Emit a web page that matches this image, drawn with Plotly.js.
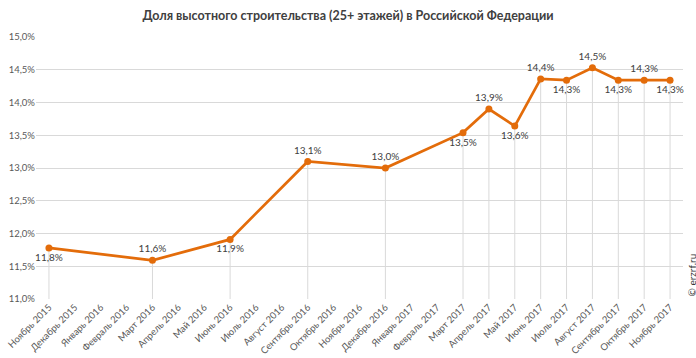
<!DOCTYPE html>
<html>
<head>
<meta charset="utf-8">
<script src="https://cdn.plot.ly/plotly-3.0.1.min.js"></script>
<style>html,body{margin:0;padding:0;background:#fff;}#chart{width:696px;height:358px;}</style>
</head>
<body>
<div id="chart"></div>
<script>
const months = ["Ноябрь 2015","Декабрь 2015","Январь 2016","Февраль 2016","Март 2016","Апрель 2016","Май 2016","Июнь 2016","Июль 2016","Август 2016","Сентябрь 2016","Октябрь 2016","Ноябрь 2016","Декабрь 2016","Январь 2017","Февраль 2017","Март 2017","Апрель 2017","Май 2017","Июнь 2017","Июль 2017","Август 2017","Сентябрь 2017","Октябрь 2017","Ноябрь 2017"];
const share = [11.78,null,null,null,11.59,null,null,11.91,null,null,13.10,null,null,13.00,null,null,13.54,13.90,13.64,14.36,14.34,14.53,14.34,14.34,14.34];
const labelPos = ["bottom center",null,null,null,"top center",null,null,"bottom center",null,null,"top center",null,null,"top center",null,null,"bottom center","top center","bottom center","top center","bottom center","top center","bottom center","top center","bottom center"];
const yTicks = [11,11.5,12,12.5,13,13.5,14,14.5,15];
const title = "Доля высотного строительства (25+ этажей) в Российской Федерации";
const yMin = 11, yMax = 15;

const drops = share.map(v => v == null ? null : v - yMin);
const yTickText = yTicks.map(v => v.toFixed(1).replace(".", ",") + "%");

const traces = [
  {
    x: months, y: share, type: "scatter", mode: "markers",
    marker: {size: 1, opacity: 0},
    error_y: {type: "data", symmetric: false, array: share.map(v => 0), arrayminus: drops, width: 0, thickness: 1, color: "#d9d9d9"},
    hoverinfo: "skip", showlegend: false
  },
  {
    x: months, y: share, type: "scatter", mode: "lines+markers+text",
    connectgaps: true,
    line: {color: "#E36C0A", width: 2.75},
    marker: {color: "#E36C0A", size: 7},
    texttemplate: "%{y:.1f}%",
    textposition: labelPos,
    textfont: {family: "Lato, 'Open Sans', sans-serif", size: 10, color: "#404040"},
    cliponaxis: false,
    showlegend: false
  }
];

const layout = {
  width: 696, height: 358,
  margin: {l: 36, r: 13, t: 37, b: 59},
  paper_bgcolor: "#ffffff", plot_bgcolor: "#ffffff",
  separators: ", ",
  title: {text: "<b>" + title + "</b>", x: 0.5, xanchor: "center", y: 0.955, yanchor: "middle",
          font: {family: "Lato, 'Open Sans', sans-serif", size: 12.5, color: "#404040"}},
  xaxis: {
    type: "category", range: [-0.5, months.length - 0.5],
    tickangle: -45, showgrid: false, zeroline: false, showline: false,
    ticks: "", tickfont: {family: "Lato, 'Open Sans', sans-serif", size: 9.5, color: "#595959"},
    fixedrange: true
  },
  yaxis: {
    range: [yMin, yMax], tickmode: "array", tickvals: yTicks, ticktext: yTickText,
    showgrid: true, gridcolor: "#d9d9d9", gridwidth: 1, zeroline: false, showline: false,
    ticks: "", tickfont: {family: "Lato, 'Open Sans', sans-serif", size: 9.5, color: "#595959"},
    fixedrange: true
  },
  annotations: [{
    text: "© erzrf.ru", xref: "paper", yref: "paper", x: 1.0, y: 0, xanchor: "left", yanchor: "bottom",
    xshift: 0, textangle: -90, showarrow: false,
    font: {family: "Lato, 'Open Sans', sans-serif", size: 10, color: "#333333"}
  }]
};

Plotly.newPlot("chart", traces, layout, {displayModeBar: false, staticPlot: true});
</script>
</body>
</html>
